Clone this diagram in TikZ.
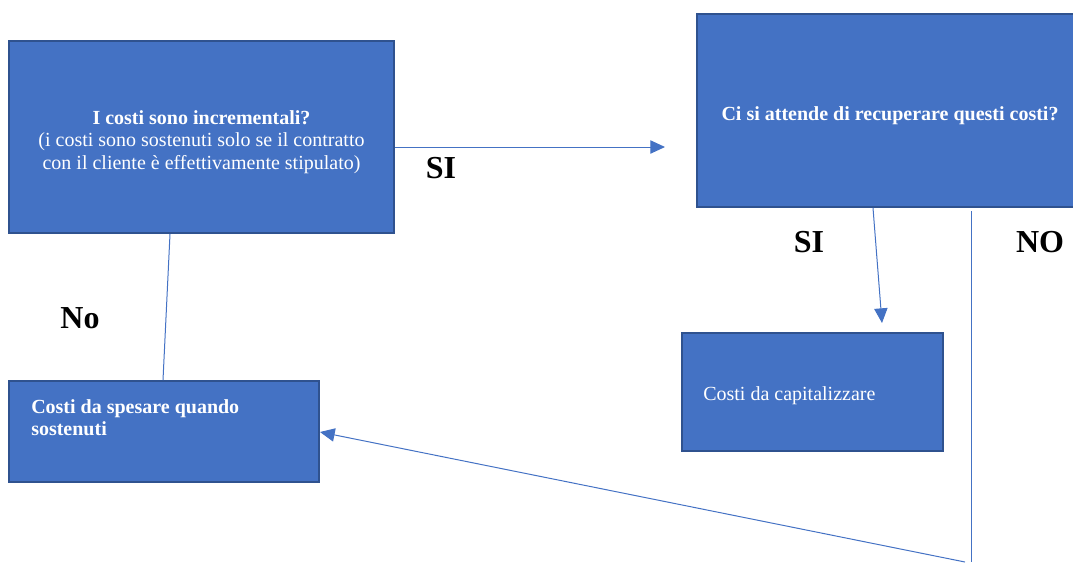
\documentclass[tikz,border=0pt]{standalone}
\usepackage{fontspec}
\setmainfont{Liberation Serif}
\usepackage{xcolor}
\definecolor{boxblue}{RGB}{68, 114, 196}
\definecolor{boxborder}{RGB}{47, 82, 143}
\usetikzlibrary{arrows.meta, positioning}

\begin{document}
\begin{tikzpicture}[
    x=0.75pt, y=-0.75pt,
    box/.style={rectangle, draw=boxborder, line width=1.5pt, fill=boxblue, inner sep=0pt},
    boxtext/.style={text=white, inner sep=0pt, font=\fontsize{15}{17}\selectfont, align=center},
    answer/.style={font=\fontsize{24}{28}\selectfont\bfseries},
    link/.style={draw=boxblue, line width=0.75pt},
    arr/.style={link, -{Triangle[length=11pt, width=10pt]}}
]
    \useasboundingbox (0,0) rectangle (1073,562);

    % Boxes
    \node[box, minimum width=288.75pt, minimum height=144pt] (incr) at (201.5,137) {};
    \node[box, minimum width=289.5pt, minimum height=144.75pt] (recup) at (890,110.5) {};
    \node[box, minimum width=195.75pt, minimum height=88.5pt] (capit) at (812.5,392) {};
    \node[box, minimum width=232.5pt, minimum height=75.75pt] (spesa) at (164,431.5) {};

    % Box texts
    \node[boxtext] (incrText) at (201.5,142)
        {\textbf{I costi sono incrementali?}\\(i costi sono sostenuti solo se il contratto\\con il cliente è effettivamente stipulato)};
    \node[boxtext, font=\fontsize{15}{17}\selectfont\bfseries] (recupText) at (890,116)
        {Ci si attende di recuperare questi costi?};
    \node[boxtext, anchor=west] (capitText) at (703,396) {Costi da capitalizzare};
    \node[boxtext, anchor=north west, align=left, font=\fontsize{15}{16.5}\selectfont\bfseries] (spesaText) at (31,399)
        {Costi da spesare quando\\sostenuti};

    % Labels
    \node[answer] (siIncr) at (441,168) {SI};
    \node[answer] (noIncr) at (80,318) {No};
    \node[answer] (siRecup) at (809,242) {SI};
    \node[answer] (noRecup) at (1040,242) {NO};

    % Free ends
    \coordinate (siTip) at (665,147);
    \coordinate (capTip) at (882,323);
    \coordinate (noTop) at (971,211);
    \coordinate (noBot) at (971,562);
    \coordinate (backStart) at (965,562);

    % Connectors
    \draw[arr] (incr.east |- siTip) -- (siTip);
    \draw[link] (incr.south -| 170,0) -- (spesa.north -| 163,0);
    \draw[arr] (recup.south -| 873,0) -- (capTip);
    \draw[link] (noTop) -- (noBot);
    \draw[arr] (backStart) -- (spesa.east |- 0,432);
\end{tikzpicture}
\end{document}
